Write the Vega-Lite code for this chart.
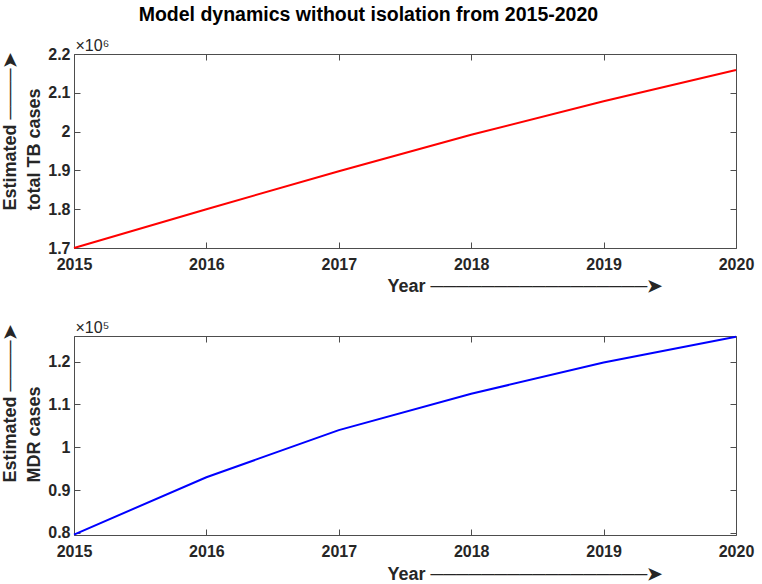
{
  "$schema": "https://vega.github.io/schema/vega-lite/v6.json",
  "autosize": {"type": "pad"},
  "padding": {"left": 0, "top": 5, "right": 0, "bottom": 0},
  "title": {"text": "Model dynamics without isolation from 2015-2020", "font": "Liberation Sans", "fontSize": 19.5, "fontWeight": "bold", "color": "#000000", "anchor": "middle", "dx": -9, "offset": 11},
  "config": {
    "view": {"stroke": "#4d4d4d", "strokeWidth": 1},
    "axis": {"labelFont": "Liberation Sans", "labelFontWeight": "bold", "labelFontSize": 16, "labelColor": "#262626", "tickColor": "#4d4d4d", "tickSize": -6, "domain": false, "grid": false, "titleFont": "Liberation Sans", "titleFontWeight": "bold", "titleFontSize": 18, "titleColor": "#262626", "labelFlush": false, "labelOverlap": false}
  },
  "datasets": {
    "tb": [
      {"year": 2015, "cases": 1700000},
      {"year": 2016, "cases": 1800000},
      {"year": 2017, "cases": 1898000},
      {"year": 2018, "cases": 1992000},
      {"year": 2019, "cases": 2078000},
      {"year": 2020, "cases": 2159000}
    ],
    "mdr": [
      {"year": 2015, "cases": 79600},
      {"year": 2016, "cases": 93000},
      {"year": 2017, "cases": 104000},
      {"year": 2018, "cases": 112500},
      {"year": 2019, "cases": 119800},
      {"year": 2020, "cases": 125800}
    ]
  },
  "bounds": "flush",
  "spacing": 88,
  "vconcat": [
    {
      "width": 662, "height": 194,
      "data": {"name": "tb"},
      "layer": [
        {
          "mark": {"type": "line", "color": "#ff0000", "strokeWidth": 2},
          "encoding": {
            "x": {"field": "year", "type": "quantitative", "scale": {"domain": [2015, 2020], "nice": false, "zero": false},
              "axis": {"orient": "bottom", "values": [2015, 2016, 2017, 2018, 2019, 2020], "format": "d", "labelPadding": 14, "title": "Year \u2500\u2500\u2500\u2500\u2500\u2500\u2500\u2500\u2500\u2500\u2500\u2500\u2500\u2500\u2500\u2500\u2500\u27a4", "titleX": 313, "titleY": 38, "titleAlign": "left", "titleBaseline": "middle", "titleAngle": 0}},
            "y": {"field": "cases", "type": "quantitative", "scale": {"domain": [1700000, 2200000], "nice": false, "zero": false},
              "axis": {"orient": "left", "values": [1700000, 1800000, 1900000, 2000000, 2100000, 2200000], "labelExpr": "format(datum.value / 1000000, '~g')", "labelPadding": 10,
                "title": ["\u00a0\u00a0\u00a0Estimated \u2500\u2500\u2500\u2500\u27a4", "total TB cases"], "titleAngle": -90, "titleAlign": "left", "titleBaseline": "middle", "titleX": -64, "titleY": 156, "titleLineHeight": 24}}
          }
        },
        {
          "mark": {"type": "line", "opacity": 0},
          "encoding": {
            "x": {"field": "year", "type": "quantitative", "scale": {"domain": [2015, 2020], "nice": false, "zero": false},
              "axis": {"orient": "top", "values": [2015, 2016, 2017, 2018, 2019, 2020], "labels": false, "title": "\u00d710\u2076", "titleFontWeight": "normal", "titleFontSize": 16, "titleX": 1, "titleY": -9, "titleAlign": "left", "titleBaseline": "middle", "titleAngle": 0}},
            "y": {"field": "cases", "type": "quantitative", "scale": {"domain": [1700000, 2200000], "nice": false, "zero": false},
              "axis": {"orient": "right", "values": [1700000, 1800000, 1900000, 2000000, 2100000, 2200000], "labels": false, "title": null}}
          }
        }
      ],
      "resolve": {"axis": {"x": "independent", "y": "independent"}}
    },
    {
      "width": 662, "height": 199,
      "data": {"name": "mdr"},
      "layer": [
        {
          "mark": {"type": "line", "color": "#0000ff", "strokeWidth": 2},
          "encoding": {
            "x": {"field": "year", "type": "quantitative", "scale": {"domain": [2015, 2020], "nice": false, "zero": false},
              "axis": {"orient": "bottom", "values": [2015, 2016, 2017, 2018, 2019, 2020], "format": "d", "labelPadding": 14, "title": "Year \u2500\u2500\u2500\u2500\u2500\u2500\u2500\u2500\u2500\u2500\u2500\u2500\u2500\u2500\u2500\u2500\u2500\u27a4", "titleX": 313, "titleY": 39, "titleAlign": "left", "titleBaseline": "middle", "titleAngle": 0}},
            "y": {"field": "cases", "type": "quantitative", "scale": {"domain": [79500, 126000], "nice": false, "zero": false},
              "axis": {"orient": "left", "values": [80000, 90000, 100000, 110000, 120000], "labelExpr": "format(datum.value / 100000, '~g')", "labelPadding": 10,
                "title": ["Estimated \u2500\u2500\u2500\u2500\u27a4", "MDR cases"], "titleAngle": -90, "titleAlign": "left", "titleBaseline": "middle", "titleX": -64, "titleY": 146, "titleLineHeight": 24}}
          }
        },
        {
          "mark": {"type": "line", "opacity": 0},
          "encoding": {
            "x": {"field": "year", "type": "quantitative", "scale": {"domain": [2015, 2020], "nice": false, "zero": false},
              "axis": {"orient": "top", "values": [2015, 2016, 2017, 2018, 2019, 2020], "labels": false, "title": "\u00d710\u2075", "titleFontWeight": "normal", "titleFontSize": 16, "titleX": 1, "titleY": -9, "titleAlign": "left", "titleBaseline": "middle", "titleAngle": 0}},
            "y": {"field": "cases", "type": "quantitative", "scale": {"domain": [79500, 126000], "nice": false, "zero": false},
              "axis": {"orient": "right", "values": [80000, 90000, 100000, 110000, 120000], "labels": false, "title": null}}
          }
        }
      ],
      "resolve": {"axis": {"x": "independent", "y": "independent"}}
    }
  ]
}
